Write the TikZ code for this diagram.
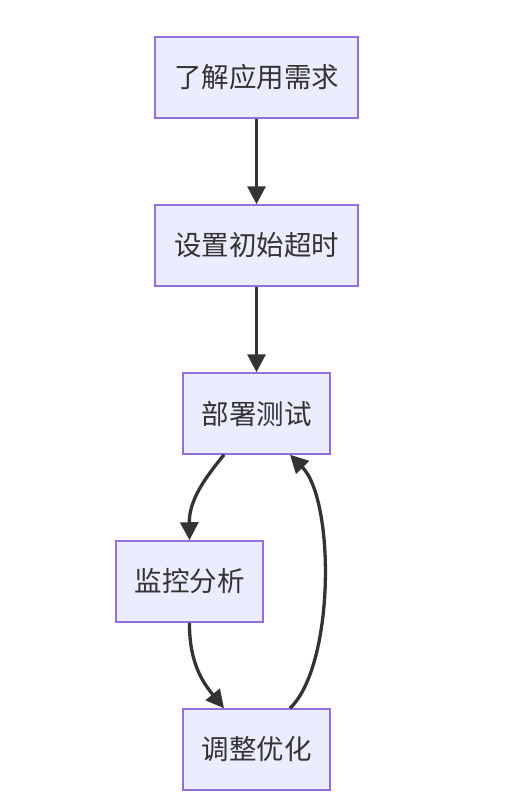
\documentclass[tikz,border=0pt]{standalone}
\usepackage{fontspec}
\setmainfont{Noto Sans CJK SC}
\usetikzlibrary{arrows.meta}
\definecolor{boxfill}{HTML}{ECECFF}
\definecolor{boxline}{HTML}{9370DB}
\definecolor{edgeink}{HTML}{333333}
\tikzset{
  flowbox/.style={draw=boxline, fill=boxfill, line width=1.5pt, text=edgeink,
    font=\fontsize{27.5}{32}\selectfont, minimum height=81pt, inner xsep=0pt},
  flowedge/.style={draw=edgeink, line width=3.3pt, -{Triangle[length=18pt,width=18pt]}}
}
\begin{document}
\begin{tikzpicture}[x=1pt,y=-1pt]
    \useasboundingbox (0,0) rectangle (516,806);
    \node[flowbox, minimum width=203pt] (req) at (256.5,77.5) {了解应用需求};
    \node[flowbox, minimum width=203pt] (init) at (256.5,245.5) {设置初始超时};
    \node[flowbox, minimum width=147pt] (deploy) at (256.5,413.5) {部署测试};
    \node[flowbox, minimum width=147pt] (monitor) at (189.5,581.5) {监控分析};
    \node[flowbox, minimum width=147pt] (tune) at (256.5,749.5) {调整优化};
    % edges
    \draw[flowedge] (req) -- (init);
    \draw[flowedge] (init) -- (deploy);
    \draw[flowedge] ([xshift=-32.5pt]deploy.south)
        .. controls (205,478) and (189,500) .. (monitor.north);
    \draw[flowedge] (monitor.south)
        .. controls (189,665) and (205,685) .. ([xshift=-32.5pt]tune.north);
    \draw[flowedge] ([xshift=33.5pt]tune.north)
        .. controls (335,665) and (335,500) .. ([xshift=33.5pt]deploy.south);
\end{tikzpicture}
\end{document}
